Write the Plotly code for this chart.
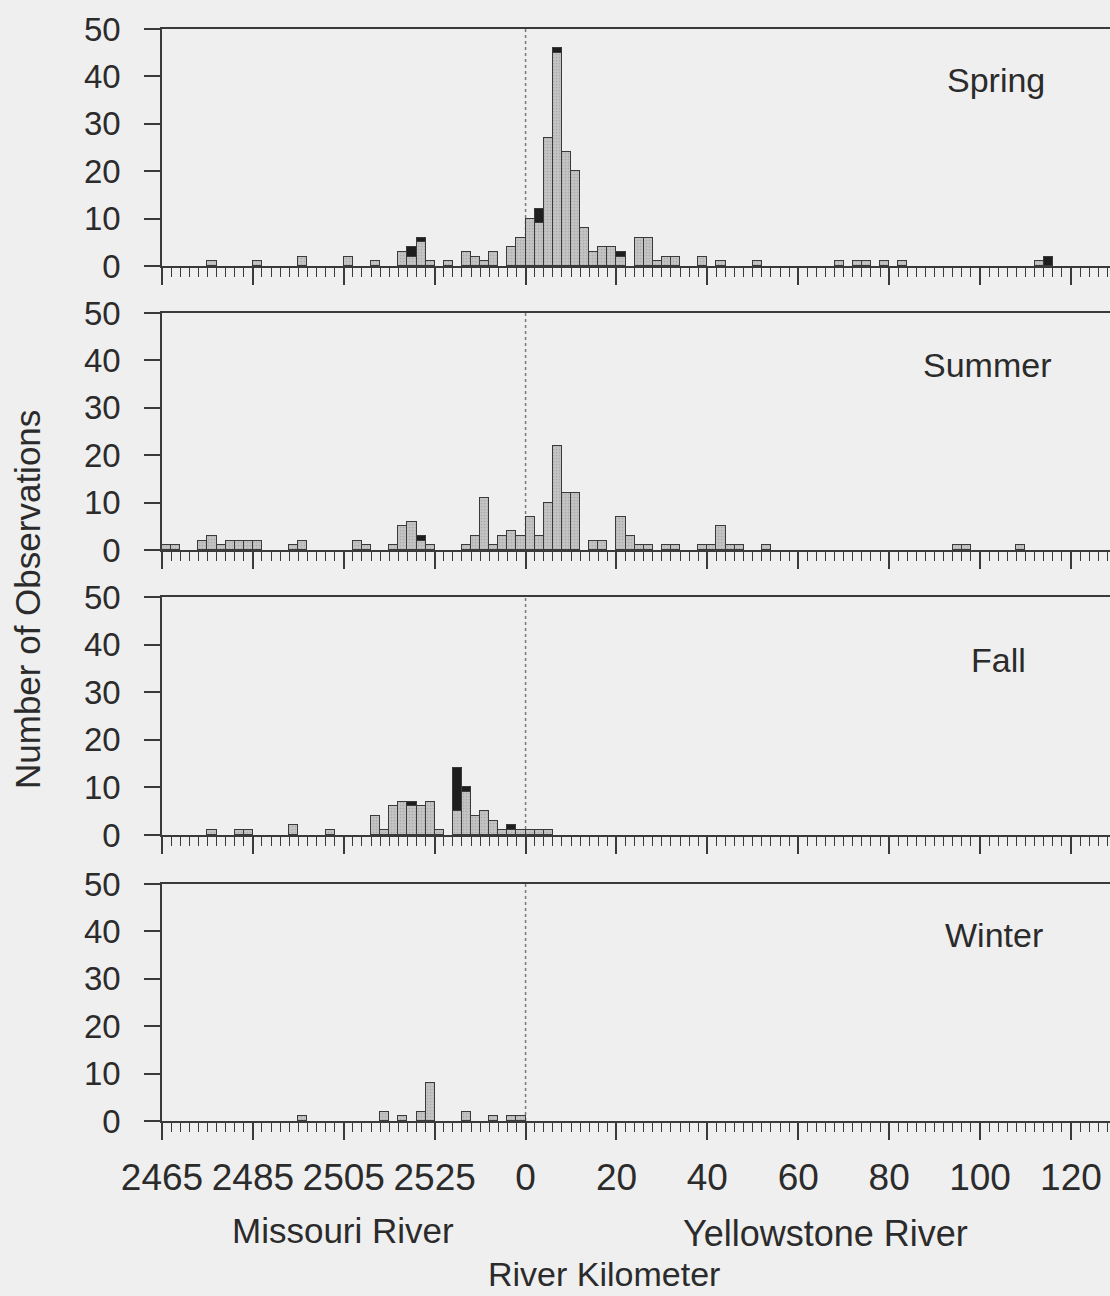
import plotly.graph_objects as go

# ---- data: bins are 2-km wide, indexed by position along the plotted river axis
# (km measured from Missouri River km 2465; confluence = 80, Yellowstone km = pos - 80)
spring_bins = [5, 10, 15, 20, 23, 26, 27, 28, 29, 31, 33, 34, 35, 36, 38, 39, 40, 41, 42, 43,
               44, 45, 46, 47, 48, 49, 50, 52, 53, 54, 55, 56, 59, 61, 65, 74, 76, 77, 79, 81, 96, 97]
spring_gray = [1, 1, 2, 2, 1, 3, 2, 5, 1, 1, 3, 2, 1, 3, 4, 6, 10, 9, 27, 45,
               24, 20, 8, 3, 4, 4, 2, 6, 6, 1, 2, 2, 2, 1, 1, 1, 1, 1, 1, 1, 1, 0]
spring_black = [0, 0, 0, 0, 0, 0, 2, 1, 0, 0, 0, 0, 0, 0, 0, 0, 0, 3, 0, 1,
                0, 0, 0, 0, 0, 0, 1, 0, 0, 0, 0, 0, 0, 0, 0, 0, 0, 0, 0, 0, 0, 2]

summer_bins = [0, 1, 4, 5, 6, 7, 8, 9, 10, 14, 15, 21, 22, 25, 26, 27, 28, 29, 33, 34,
               35, 36, 37, 38, 39, 40, 41, 42, 43, 44, 45, 47, 48, 50, 51, 52, 53, 55, 56, 59,
               60, 61, 62, 63, 66, 87, 88, 94]
summer_gray = [1, 1, 2, 3, 1, 2, 2, 2, 2, 1, 2, 2, 1, 1, 5, 6, 2, 1, 1, 3,
               11, 1, 3, 4, 3, 7, 3, 10, 22, 12, 12, 2, 2, 7, 3, 1, 1, 1, 1, 1,
               1, 5, 1, 1, 1, 1, 1, 1]
summer_black = [0, 0, 0, 0, 0, 0, 0, 0, 0, 0, 0, 0, 0, 0, 0, 0, 1, 0, 0, 0,
                0, 0, 0, 0, 0, 0, 0, 0, 0, 0, 0, 0, 0, 0, 0, 0, 0, 0, 0, 0,
                0, 0, 0, 0, 0, 0, 0, 0]

fall_bins = [5, 8, 9, 14, 18, 23, 24, 25, 26, 27, 28, 29, 30, 32, 33, 34, 35, 36, 37, 38, 39, 40, 41, 42]
fall_gray = [1, 1, 1, 2, 1, 4, 1, 6, 7, 6, 6, 7, 1, 5, 9, 4, 5, 3, 1, 1, 1, 1, 1, 1]
fall_black = [0, 0, 0, 0, 0, 0, 0, 0, 0, 1, 0, 0, 0, 9, 1, 0, 0, 0, 0, 1, 0, 0, 0, 0]

winter_bins = [15, 24, 26, 28, 29, 33, 36, 38, 39]
winter_gray = [1, 2, 1, 2, 8, 2, 1, 1, 1]
winter_black = [0, 0, 0, 0, 0, 0, 0, 0, 0]

seasons = ["Spring", "Summer", "Fall", "Winter"]
tick_positions = [0, 20, 40, 60, 80, 100, 120, 140, 160, 180, 200]
tick_labels = ["2465", "2485", "2505", "2525", "0", "20", "40", "60", "80", "100", "120"]
y_ticks = [0, 10, 20, 30, 40, 50]

BIN_W = 2
CONFLUENCE = 80
X_MAX = 208.6

data = [
    (spring_bins, spring_gray, spring_black),
    (summer_bins, summer_gray, summer_black),
    (fall_bins, fall_gray, fall_black),
    (winter_bins, winter_gray, winter_black),
]

W, H = 1110, 1296
ML, MT, MB = 162, 29, 175
plot_h = H - MT - MB
panel_px = [(29, 266), (313, 550), (597, 835), (884, 1121)]
label_px = [(996, 80), (987, 365), (998, 660), (994, 935)]

INK = "#3a3a3a"
TXT = "#2b2b2b"
BG = "#efefef"
FONT = "Liberation Sans, Arial"

fig = go.Figure()
for i, (bins, gray, black) in enumerate(data):
    k = "" if i == 0 else str(i + 1)
    centers = [b * BIN_W + BIN_W / 2 for b in bins]
    fig.add_trace(go.Bar(
        x=centers, y=gray, width=BIN_W, xaxis="x" + k, yaxis="y" + k,
        marker=dict(color="#b9b9b9", line=dict(color=INK, width=1.2),
                    pattern=dict(shape=".", fgcolor="#8f8f8f", bgcolor="#c4c4c4", size=3, solidity=0.25)),
        showlegend=False, hoverinfo="x+y"))
    fig.add_trace(go.Bar(
        x=centers, y=black, width=BIN_W, xaxis="x" + k, yaxis="y" + k,
        marker=dict(color="#1e1e1e", line=dict(color=INK, width=1.2)),
        showlegend=False, hoverinfo="x+y"))

    top, bot = panel_px[i]
    dom = [(H - MB - bot) / plot_h, (H - MB - top) / plot_h]
    last = i == 3
    fig.update_layout(**{
        "xaxis" + k: dict(
            domain=[0, 1], anchor="y" + k, range=[0, X_MAX],
            tickmode="array", tickvals=tick_positions, ticktext=tick_labels,
            showticklabels=last, ticks="outside", ticklen=17, tickwidth=1.5, tickcolor=INK,
            minor=dict(dtick=2, tick0=0, ticks="outside", ticklen=9, tickwidth=1.3, tickcolor=INK),
            showline=True, linecolor=INK, linewidth=1.5, mirror=True,
            showgrid=False, zeroline=False, fixedrange=True,
            tickfont=dict(family=FONT, size=37, color=TXT),
            ticklabelstandoff=6,
        ),
        "yaxis" + k: dict(
            domain=dom, anchor="x" + k, range=[0, 50],
            tickmode="array", tickvals=y_ticks,
            ticks="outside", ticklen=16, tickwidth=1.5, tickcolor=INK,
            showline=True, linecolor=INK, linewidth=1.5,
            showgrid=False, zeroline=False, fixedrange=True,
            tickfont=dict(family=FONT, size=33, color=TXT),
            ticklabelstandoff=17,
        ),
    })
    # dotted confluence line
    fig.add_shape(type="line", xref="x" + k, yref="y" + k, x0=CONFLUENCE, x1=CONFLUENCE,
                  y0=0, y1=50, layer="below", line=dict(color="#7a7a7a", width=1.5, dash="dot"))
    lx, ly = label_px[i]
    fig.add_annotation(text=seasons[i], xref="paper", yref="paper",
                       x=(lx - ML) / (W - ML), y=(H - MB - ly) / plot_h,
                       xanchor="center", yanchor="middle", showarrow=False,
                       font=dict(family=FONT, size=34, color=TXT))

def px_to_paper(x, y):
    return (x - ML) / (W - ML), (H - MB - y) / plot_h

for text, (x, y), size in [("Missouri River", (343, 1230), 35),
                           ("Yellowstone River", (825, 1233), 36),
                           ("River Kilometer", (604, 1274), 34)]:
    px, py = px_to_paper(x, y)
    fig.add_annotation(text=text, xref="paper", yref="paper", x=px, y=py,
                       xanchor="center", yanchor="middle", showarrow=False,
                       font=dict(family=FONT, size=size, color=TXT))

px, py = px_to_paper(28, 600)
fig.add_annotation(text="Number of Observations", xref="paper", yref="paper", x=px, y=py,
                   xanchor="center", yanchor="middle", showarrow=False, textangle=-90,
                   font=dict(family=FONT, size=35, color=TXT))

fig.update_layout(
    width=W, height=H, barmode="stack", bargap=0,
    margin=dict(l=ML, r=0, t=MT, b=MB),
    paper_bgcolor=BG, plot_bgcolor=BG,
)
fig.write_html("out.html", config={"displayModeBar": False},
               post_script="document.body.style.margin='0';document.body.style.padding='0';"
                           "document.body.style.background='" + BG + "';")
